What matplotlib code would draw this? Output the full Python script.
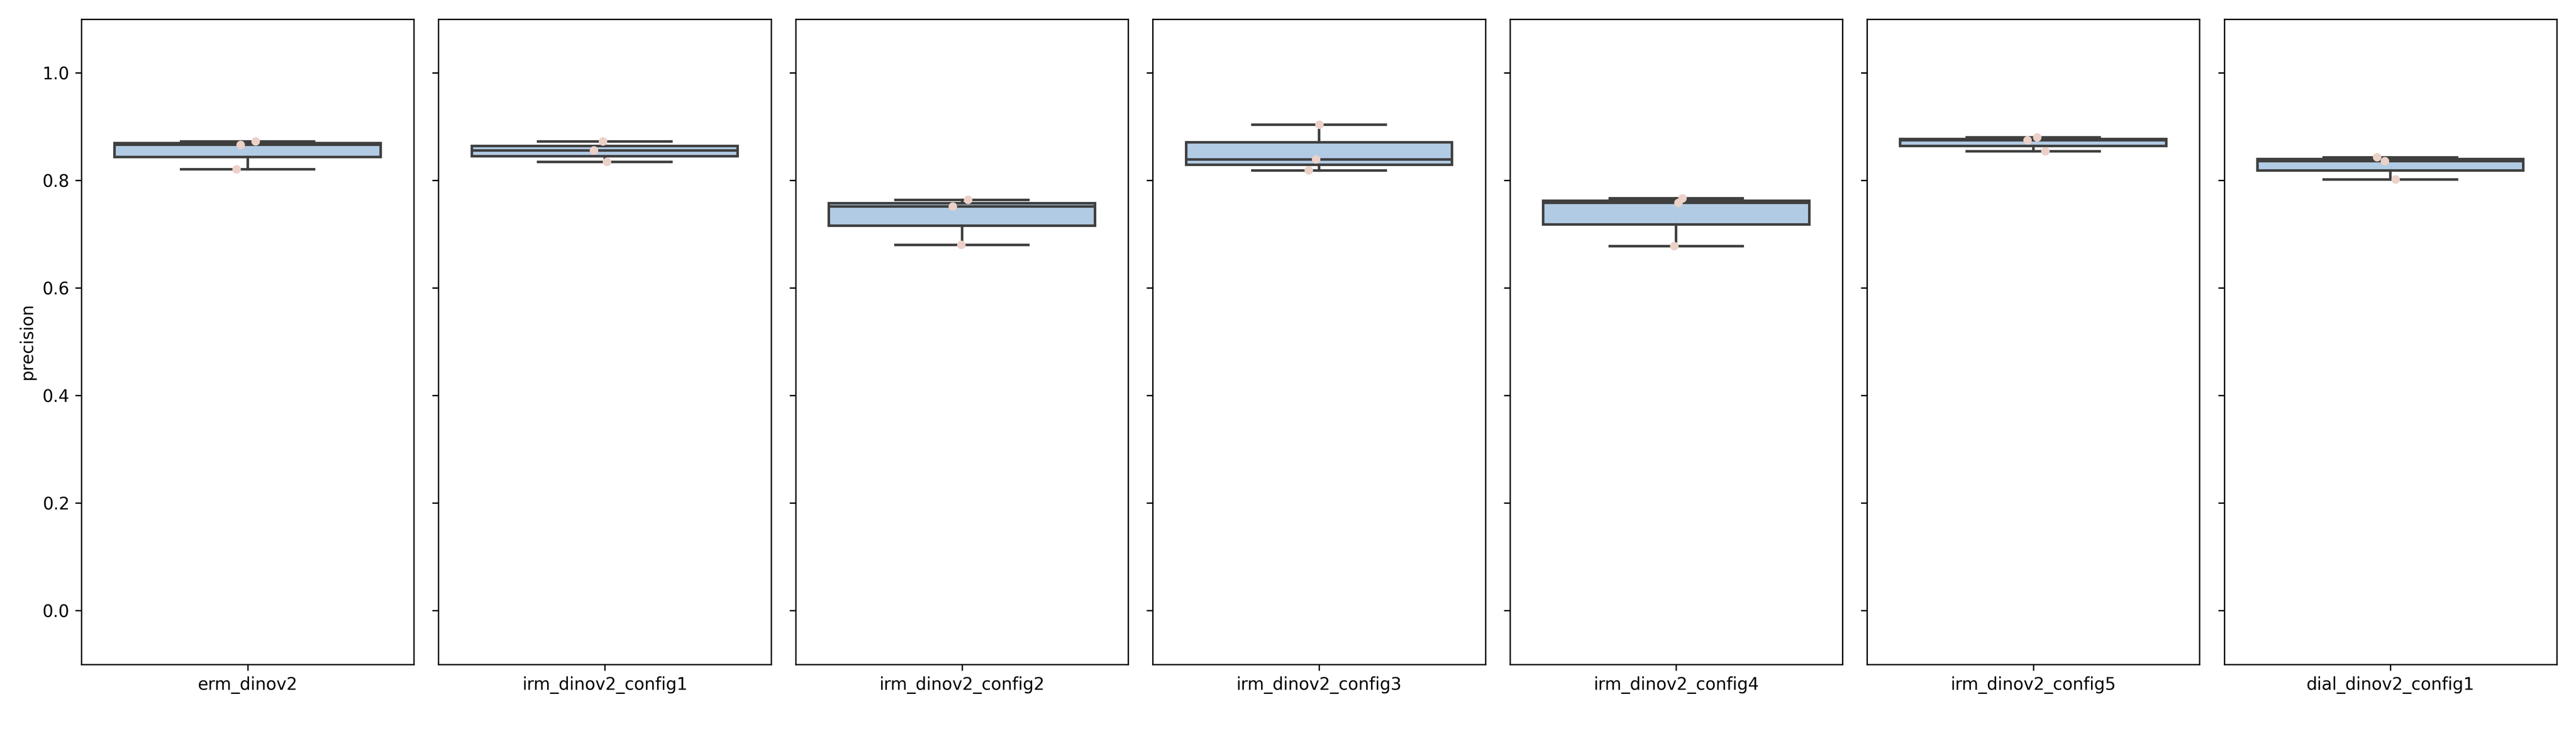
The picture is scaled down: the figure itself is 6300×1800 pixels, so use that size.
import numpy as np
import matplotlib
matplotlib.use("Agg")
import matplotlib.pyplot as plt

groups = ["erm_dinov2", "irm_dinov2_config1", "irm_dinov2_config2", "irm_dinov2_config3",
          "irm_dinov2_config4", "irm_dinov2_config5", "dial_dinov2_config1"]
erm_dinov2 = [0.8205, 0.8660, 0.8725]
irm_dinov2_config1 = [0.8344, 0.8557, 0.8725]
irm_dinov2_config2 = [0.6800, 0.7513, 0.7638]
irm_dinov2_config3 = [0.8185, 0.8390, 0.9035]
irm_dinov2_config4 = [0.6778, 0.7582, 0.7665]
irm_dinov2_config5 = [0.8540, 0.8745, 0.8800]
dial_dinov2_config1 = [0.8017, 0.8357, 0.8431]
values = [erm_dinov2, irm_dinov2_config1, irm_dinov2_config2, irm_dinov2_config3,
          irm_dinov2_config4, irm_dinov2_config5, dial_dinov2_config1]
y_ticks = [0.0, 0.2, 0.4, 0.6, 0.8, 1.0]

box_face = "#b2cbe4"
line_col = "#3f3f3f"
point_col = "#ebd1c8"

fig, axes = plt.subplots(1, 7, figsize=(21, 6), dpi=300, sharey=True)
fig.subplots_adjust(left=0.0316, right=0.9925, bottom=0.0975, top=0.974, wspace=0.074)

rng = np.random.default_rng(3)
for i, (ax, name, vals) in enumerate(zip(axes, groups, values)):
    lp = dict(color=line_col, linewidth=1.5)
    ax.boxplot([vals], positions=[0], widths=0.8, patch_artist=True, whis=1.5,
               boxprops=dict(facecolor=box_face, edgecolor=line_col, linewidth=1.5),
               medianprops=lp, whiskerprops=lp, capprops=lp, capwidths=0.4,
               showfliers=False, zorder=2)
    jit = rng.uniform(-0.04, 0.04, size=len(vals))
    ax.scatter(jit, vals, s=25, color=point_col, edgecolors="none", zorder=3)
    ax.set_xlim(-0.5, 0.5)
    ax.set_xticks([0])
    ax.set_xticklabels([name])
    ax.set_ylim(-0.1, 1.1)
    ax.set_yticks(y_ticks)
    ax.tick_params(axis="y", labelleft=(i == 0))

axes[0].set_ylabel("precision")
fig.savefig("out.png", dpi=300)
